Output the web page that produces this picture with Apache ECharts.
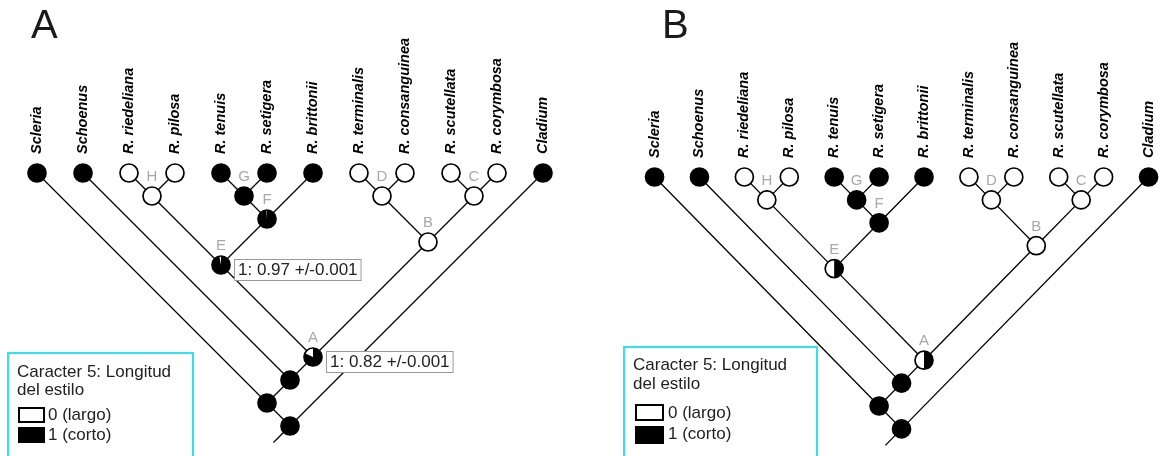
<!DOCTYPE html>
<html>
<head>
<meta charset="utf-8">
<script src="https://cdn.jsdelivr.net/npm/echarts@6/dist/echarts.min.js"></script>
<style>
  html, body { margin: 0; padding: 0; background: #fff; }
  #chart { width: 1171px; height: 456px; }
</style>
</head>
<body>
<div id="chart"></div>
<script>
// Terminal taxa, left to right
const taxa = ['Scleria', 'Schoenus', 'R. riedeliana', 'R. pilosa', 'R. tenuis', 'R. setigera',
  'R. brittonii', 'R. terminalis', 'R. consanguinea', 'R. scutellata', 'R. corymbosa', 'Cladium'];

// Observed state of character 5 at the tips (1 = corto, 0 = largo)
const tipStates = [1, 1, 0, 0, 1, 1, 1, 0, 0, 0, 0, 1];

// Internal nodes: [id, left child, right child]; numeric children are tip indices
const nodeIds = ['H', 'G', 'F', 'E', 'D', 'C', 'B', 'A', 'n1', 'n2', 'root'];
const nodeChildren = [[2, 3], [4, 5], ['G', 6], ['H', 'F'], [7, 8], [9, 10], ['D', 'C'], ['E', 'B'], [1, 'A'], [0, 'n1'], ['n2', 11]];
const nodeLetters = ['H', 'G', 'F', 'E', 'D', 'C', 'B', 'A', '', '', ''];

// Reconstructed probability of state 1 at each internal node
const nodeStatesA = [0, 1, 0.99, 0.97, 0, 0, 0, 0.82, 1, 1, 1];
const nodeStatesB = [0, 1, 1, 0.5, 0, 0, 0, 0.5, 1, 1, 1];

// Probability notes shown next to nodes (panel A)
const noteNodes = ['E', 'A'];
const noteTexts = ['1: 0.97 +/-0.001', '1: 0.82 +/-0.001'];

const panelTitles = ['A', 'B'];
const legendTitle = ['Caracter 5: Longitud', 'del estilo'];
const legendItems = ['0 (largo)', '1 (corto)'];

const FONT = '"Liberation Sans", Arial, Helvetica, sans-serif';

// Tree layout: tips sit at depth 0, branches run at 45 degrees
function layout() {
  const pos = {};
  taxa.forEach((t, i) => { pos[i] = [i, 0]; });
  nodeIds.forEach((id, k) => {
    const [a, b] = nodeChildren[k];
    const [x1, d1] = pos[a];
    const [x2, d2] = pos[b];
    const d = (x2 - x1 + d1 + d2) / 2;
    pos[id] = [x1 + d - d1, d];
  });
  return pos;
}

function buildPanel(nodeStates, withNotes) {
  const pos = layout();
  const branches = [];
  nodeIds.forEach((id, k) => {
    nodeChildren[k].forEach(c => {
      branches.push([pos[c][0], pos[c][1], pos[id][0], pos[id][1]]);
    });
  });
  // root stem
  const r = pos['root'];
  branches.push([r[0], r[1], r[0] - 0.36, r[1] + 0.36]);

  const points = [];
  const meta = [];
  taxa.forEach((t, i) => {
    points.push([pos[i][0], pos[i][1], tipStates[i]]);
    meta.push({ name: t, letter: '', note: '' });
  });
  nodeIds.forEach((id, k) => {
    points.push([pos[id][0], pos[id][1], nodeStates[k]]);
    const ni = noteNodes.indexOf(id);
    meta.push({ name: '', letter: nodeLetters[k], note: withNotes && ni >= 0 ? noteTexts[ni] : '' });
  });
  return { branches, points, meta };
}

const panels = [buildPanel(nodeStatesA, true), buildPanel(nodeStatesB, false)];

function branchSeries(idx) {
  return {
    type: 'custom',
    xAxisIndex: idx, yAxisIndex: idx,
    data: panels[idx].branches,
    encode: { x: [0, 2], y: [1, 3] },
    silent: true,
    renderItem: function (params, api) {
      const p1 = api.coord([api.value(0), api.value(1)]);
      const p2 = api.coord([api.value(2), api.value(3)]);
      return {
        type: 'line',
        shape: { x1: p1[0], y1: p1[1], x2: p2[0], y2: p2[1] },
        style: { stroke: '#000', lineWidth: 1.3 }
      };
    }
  };
}

function nodeSeries(idx) {
  const meta = panels[idx].meta;
  return {
    type: 'custom',
    xAxisIndex: idx, yAxisIndex: idx,
    data: panels[idx].points,
    encode: { x: 0, y: 1 },
    silent: true,
    renderItem: function (params, api) {
      const c = api.coord([api.value(0), api.value(1)]);
      const p = api.value(2);
      const m = meta[params.dataIndex];
      const R = 9;
      const children = [{
        type: 'circle',
        shape: { cx: c[0], cy: c[1], r: R },
        style: { fill: p >= 1 ? '#000' : '#fff', stroke: '#000', lineWidth: 1.7 }
      }];
      if (p > 0 && p < 1) {
        children.push({
          type: 'sector',
          shape: { cx: c[0], cy: c[1], r0: 0, r: R, startAngle: -Math.PI / 2, endAngle: -Math.PI / 2 + p * Math.PI * 2, clockwise: true },
          style: { fill: '#000' }
        });
      }
      if (m.name) {
        children.push({
          type: 'text', x: c[0], y: c[1] - 19, rotation: Math.PI / 2,
          style: { text: m.name, font: 'italic bold 14.5px ' + FONT, fill: '#000', align: 'left', verticalAlign: 'middle' }
        });
      }
      if (m.letter) {
        children.push({
          type: 'text', x: c[0], y: c[1] - 19,
          style: { text: m.letter, font: '15px ' + FONT, fill: '#a8a8a8', align: 'center', verticalAlign: 'middle' }
        });
      }
      if (m.note) {
        children.push({
          type: 'text', x: c[0] + 14, y: c[1] + 5,
          style: {
            text: m.note, font: '17px ' + FONT, fill: '#222', align: 'left', verticalAlign: 'middle',
            backgroundColor: '#fff', borderColor: '#9a9a9a', borderWidth: 1, padding: [2, 3, 1, 3]
          }
        });
      }
      return { type: 'group', children: children };
    }
  };
}

function legendGraphic(box, tx, ty, items) {
  const els = [
    { type: 'rect', shape: box, style: { fill: '#fff', stroke: '#30e4ec', lineWidth: 2 }, z: 10 },
    { type: 'text', x: tx, y: ty[0], style: { text: legendTitle[0], font: '17px ' + FONT, fill: '#222', verticalAlign: 'middle' }, z: 11 },
    { type: 'text', x: tx, y: ty[1], style: { text: legendTitle[1], font: '17px ' + FONT, fill: '#222', verticalAlign: 'middle' }, z: 11 }
  ];
  items.forEach((it, i) => {
    els.push({ type: 'rect', shape: it.rect, style: { fill: i === 0 ? '#fff' : '#000', stroke: '#000', lineWidth: 2 }, z: 11 });
    els.push({ type: 'text', x: it.tx, y: it.ty, style: { text: legendItems[i], font: '17px ' + FONT, fill: '#222', verticalAlign: 'middle' }, z: 11 });
  });
  return els;
}

const chart = echarts.init(document.getElementById('chart'), null, { renderer: 'canvas' });

const option = {
  animation: false,
  backgroundColor: '#fff',
  grid: [
    { left: 14, top: 12, width: 552, height: 437 },
    { left: 632.1, top: 16.7, width: 549.6, height: 435.1 }
  ],
  xAxis: [
    { gridIndex: 0, type: 'value', min: -0.5, max: 11.5, show: false },
    { gridIndex: 1, type: 'value', min: -0.5, max: 11.5, show: false }
  ],
  yAxis: [
    { gridIndex: 0, type: 'value', min: -3.5, max: 6, inverse: true, show: false },
    { gridIndex: 1, type: 'value', min: -3.5, max: 6, inverse: true, show: false }
  ],
  graphic: [
    { type: 'text', left: 31, top: 7, style: { text: panelTitles[0], font: '40px ' + FONT, fill: '#1a1a1a' } },
    { type: 'text', left: 662, top: 7, style: { text: panelTitles[1], font: '40px ' + FONT, fill: '#1a1a1a' } }
  ].concat(
    legendGraphic({ x: 8, y: 353, width: 185, height: 110 }, 17, [372, 390], [
      { rect: { x: 19, y: 408, width: 25, height: 14 }, tx: 48, ty: 415 },
      { rect: { x: 19, y: 428, width: 25, height: 14 }, tx: 48, ty: 435 }
    ]),
    legendGraphic({ x: 624, y: 347, width: 193, height: 115 }, 633, [365, 384], [
      { rect: { x: 636, y: 405, width: 27, height: 15 }, tx: 668, ty: 413 },
      { rect: { x: 636, y: 427, width: 27, height: 16 }, tx: 668, ty: 434 }
    ])
  ),
  series: [branchSeries(0), nodeSeries(0), branchSeries(1), nodeSeries(1)]
};

chart.setOption(option);
</script>
</body>
</html>
